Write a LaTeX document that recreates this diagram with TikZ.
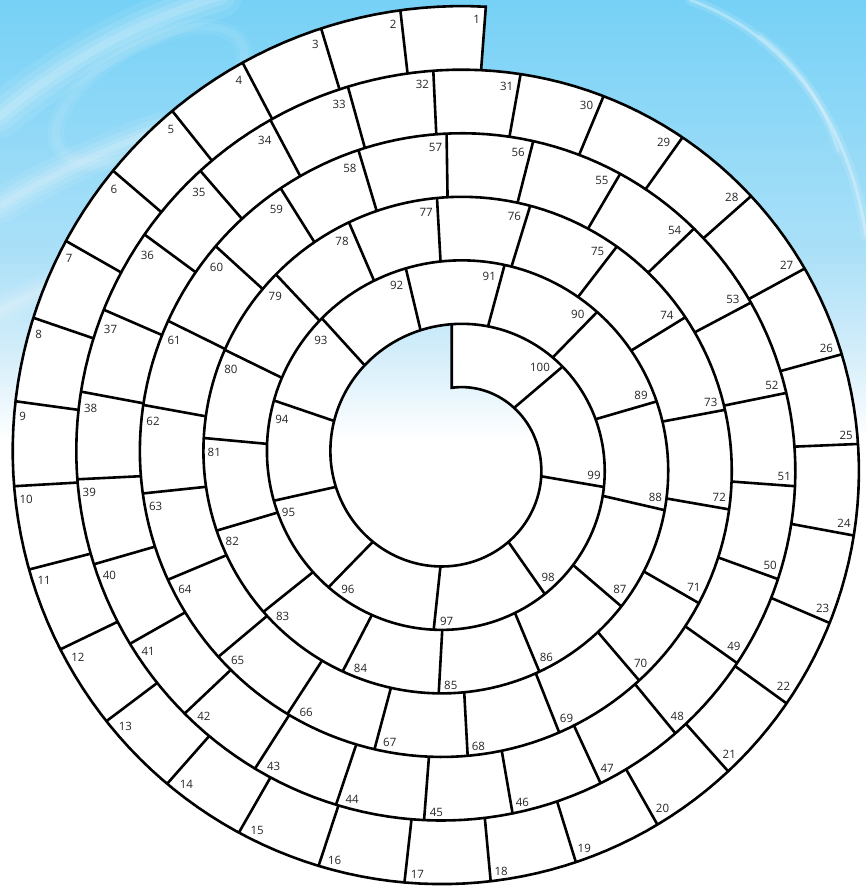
\documentclass[tikz,border=0pt]{standalone}
\usepackage{fontspec}
\newfontfamily\lblfont{Open Sans}
\definecolor{skyA}{RGB}{118,209,246}
\definecolor{skyB}{RGB}{170,224,248}
\definecolor{skyC}{RGB}{210,237,250}
\pgfdeclareverticalshading{skybg}{100bp}{color(0bp)=(white); color(50.17bp)=(white); color(55.25bp)=(skyC); color(60.89bp)=(skyB); color(75bp)=(skyA); color(100bp)=(skyA)}
\tikzset{
  board/.style={line width=2.6pt, line join=miter, black},
  lbl/.style={font=\lblfont\fontsize{11.5pt}{12pt}\selectfont, inner sep=0pt, text height=12.8pt, text depth=0pt, text=black!85},
  swirl/.style={white, line cap=round},
}
\begin{document}
\begin{tikzpicture}[x=1pt,y=1pt, declare function={rsp(\t)=73.2+0.1766667*\t;}]
\useasboundingbox (0,0) rectangle (866,886);
\shade[shading=skybg] (0,0) rectangle (866,886);
% background swirls (soft white streaks)
\foreach \lw/\op in {44/0.08, 30/0.1, 18/0.12, 8/0.14} {
  \draw[swirl, opacity=\op, line width=\lw pt] (0,770) .. controls (60,820) and (130,862) .. (220,890);
  \draw[swirl, opacity=\op, line width=0.8*\lw pt] (0,680) .. controls (40,705) and (100,735) .. (160,756);
  \draw[swirl, opacity=0.8*\op, line width=0.7*\lw pt] (0,575) .. controls (30,590) and (70,610) .. (110,630);
}
\foreach \lw/\op in {16/0.06, 8/0.08} {
  \draw[swirl, opacity=\op, line width=\lw pt, rotate around={30:(150,791)}] (150,791) ellipse [x radius=105, y radius=50];
}
\foreach \lw/\op in {10/0.12, 3/0.3} {
  \draw[swirl, opacity=\op, line width=\lw pt] (690,886) .. controls (790,850) and (850,760) .. (866,650);
  \draw[swirl, opacity=0.6*\op, line width=\lw pt] (760,850) .. controls (800,820) and (825,780) .. (838,735);
}
\begin{scope}[shift={(451.7,425)}]
% white track
\fill[white, even odd rule]
  plot[domain=1804.3:2164.3, samples=181, variable=\t] ({90-\t}:{rsp(\t)}) -- cycle
  plot[domain=0:360, samples=181, variable=\t] ({90-\t}:{rsp(\t)}) -- cycle;
% spiral line with both ends
\draw[board] (90:{rsp(360)}) -- plot[domain=0:2164.3, samples=1083, variable=\t] ({90-\t}:{rsp(\t)}) -- ({90-1804.3}:{rsp(1804.3)});
% cell boundaries and numbers
\foreach \n/\b in {1/1804.3, 2/1793.5, 3/1783.2, 4/1772.3, 5/1761.4, 6/1750.6, 7/1739.7, 8/1728.9, 9/1717.8, 10/1706.7,
  11/1695.6, 12/1684.3, 13/1673.0, 14/1661.4, 15/1649.8, 16/1638.2, 17/1626.4, 18/1614.7, 19/1602.8, 20/1590.5,
  21/1578.3, 22/1565.9, 23/1553.2, 24/1540.5, 25/1527.6, 26/1514.7, 27/1501.4, 28/1488.5, 29/1475.5, 30/1462.6,
  31/1450.1, 32/1437.3, 33/1424.5, 34/1412.0, 35/1399.1, 36/1386.4, 37/1373.5, 38/1360.6, 39/1347.2, 40/1333.9,
  41/1320.4, 42/1306.6, 43/1292.6, 44/1278.6, 45/1264.4, 46/1250.2, 47/1235.2, 48/1220.6, 49/1205.3, 50/1189.9,
  51/1174.2, 52/1158.5, 53/1142.1, 54/1126.2, 55/1110.4, 56/1094.3, 57/1079.1, 58/1063.3, 59/1047.9, 60/1032.3,
  61/1016.3, 62/1000.3, 63/984.0, 64/967.3, 65/950.0, 66/933.0, 67/915.0, 68/896.9, 69/878.4, 70/859.5,
  71/839.9, 72/819.9, 73/799.4, 74/778.4, 75/757.6, 76/737.1, 77/716.8, 78/696.7, 79/676.7, 80/656.1,
  81/635.3, 82/613.5, 83/591.3, 84/567.4, 85/543.2, 86/517.4, 87/490.6, 88/463.0, 89/433.8, 90/404.3,
  91/375.1, 92/346.6, 93/317.7, 94/288.8, 95/257.4, 96/224.3, 97/186.1, 98/145.0, 99/99.7, 100/49.6} {
  \ifnum\n>1
    \draw[board] ({90-\b}:{rsp(\b)}) -- ({90-\b}:{rsp(\b+360)});
  \fi
  \pgfmathsetmacro\th{90-\b}
  \pgfmathsetmacro\ro{rsp(\b+360)}
  \pgfmathsetmacro\w{\n<10 ? 6.6 : (\n<100 ? 13.2 : 19.8)}
  \pgfmathsetmacro\dr{4.5+abs(\w/2*cos(\th))+abs(6.4*sin(\th))}
  \pgfmathsetmacro\dt{4.5+abs(\w/2*sin(\th))+abs(6.4*cos(\th))}
  \pgfmathsetmacro\lx{(\ro-\dr)*cos(\th)-\dt*sin(\th)}
  \pgfmathsetmacro\ly{(\ro-\dr)*sin(\th)+\dt*cos(\th)}
  \node[lbl] (c\n) at (\lx,\ly) {\n};
}
\end{scope}
\end{tikzpicture}
\end{document}
